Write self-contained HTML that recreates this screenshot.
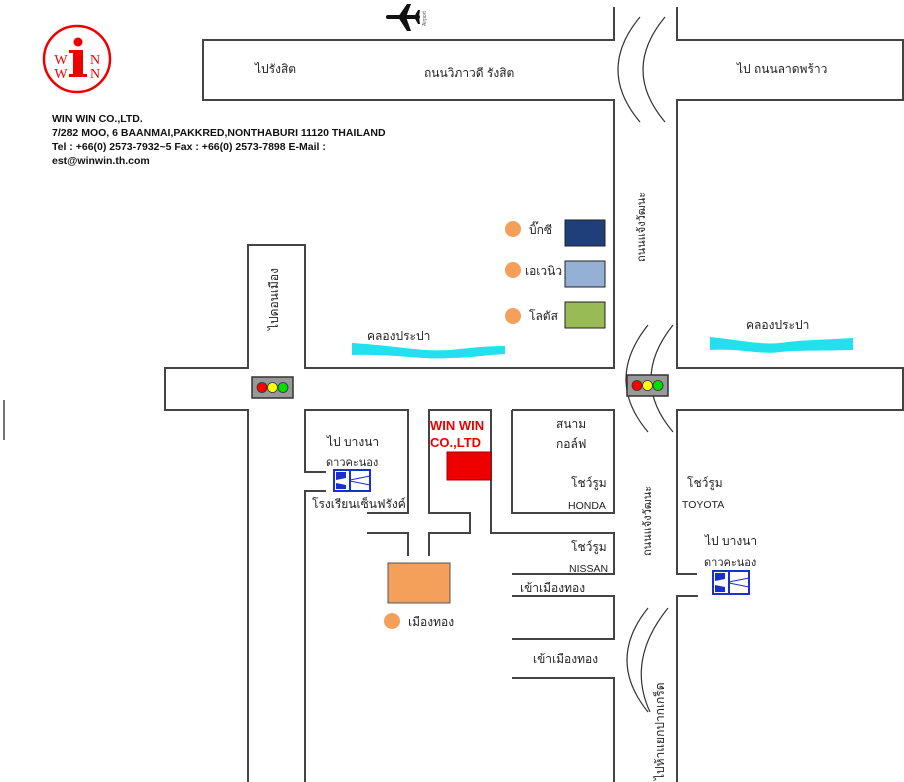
<!DOCTYPE html>
<html><head><meta charset="utf-8"><style>
html,body{margin:0;padding:0;background:#fff;}
svg{display:block;}
text{font-family:"Liberation Sans","Noto Sans CJK SC",sans-serif;}
</style></head><body>
<svg width="904" height="782" viewBox="0 0 904 782" xmlns="http://www.w3.org/2000/svg">
<rect width="904" height="782" fill="#fff"/>
<g stroke="#444" stroke-width="2" fill="none">
<polyline points="614,7 614,40 203,40 203,100 614,100 614,368 305,368 305,245 248,245 248,368 165,368 165,410 248,410 248,782"/>
<polyline points="677,7 677,40 903,40 903,100 677,100 677,368 903,368 903,410 677,410 677,574 697,574"/>
<polyline points="698,596 677,596 677,782"/>
<polyline points="326,472 305,472 305,410 408,410 408,513 367,513"/>
<polyline points="326,491 305,491 305,782"/>
<polyline points="367,533 408,533 408,556"/>
<polyline points="429,556 429,533 470,533 470,513 429,513 429,410 491,410 491,533 614,533 614,574 512,574"/>
<polyline points="512,410 614,410 614,513 512,513 512,410"/>
<polyline points="512,596 614,596 614,639 512,639"/>
<polyline points="512,678 614,678 614,782"/>
<line x1="4" y1="400" x2="4" y2="440" stroke-width="1.5"/>
</g>
<g stroke="#333" stroke-width="1.2" fill="none">
<path d="M640,17 Q596,70 640,122"/>
<path d="M665,17 Q621,70 665,122"/>
<path d="M648,325 Q604,380 648,432"/>
<path d="M673,325 Q629,380 673,432"/>
<path d="M648,608 Q606,660 648,712"/>
<path d="M668,608 Q626,660 650,712"/>
</g>
<path d="M352,343 C400,346 420,352 450,350 C470,348 485,346 505,346 L505,354 C485,355 470,358 450,358 C420,360 400,354 352,355 Z" fill="#22e0ee"/>
<path d="M710,337 C740,340 760,345 780,343 C800,340 820,340 853,338 L853,350 C820,351 800,350 780,352 C760,355 740,348 710,350 Z" fill="#22e0ee"/>
<g>
<rect x="252" y="377" width="41" height="21" fill="#999" stroke="#333" stroke-width="1.5"/>
<circle cx="262" cy="387.5" r="5" fill="red" stroke="#333" stroke-width="0.8"/>
<circle cx="272.5" cy="387.5" r="5" fill="#ff0" stroke="#333" stroke-width="0.8"/>
<circle cx="283" cy="387.5" r="5" fill="#0d0" stroke="#333" stroke-width="0.8"/>
<rect x="627" y="375" width="41" height="21" fill="#999" stroke="#333" stroke-width="1.5"/>
<circle cx="637" cy="385.5" r="5" fill="red" stroke="#333" stroke-width="0.8"/>
<circle cx="647.5" cy="385.5" r="5" fill="#ff0" stroke="#333" stroke-width="0.8"/>
<circle cx="658" cy="385.5" r="5" fill="#0d0" stroke="#333" stroke-width="0.8"/>
</g>
<!-- logo -->
<circle cx="77" cy="59" r="33" fill="none" stroke="#e00" stroke-width="2.5"/>
<circle cx="78" cy="42" r="4.5" fill="#e00"/>
<rect x="73" y="50" width="10" height="26" fill="#e00"/>
<rect x="69" y="50" width="8" height="3" fill="#e00"/>
<rect x="69" y="74" width="18" height="3" fill="#e00"/>
<text x="61" y="64" font-size="14" fill="#e00" text-anchor="middle" style="font-family:'Liberation Serif',serif">W</text>
<text x="61" y="78" font-size="14" fill="#e00" text-anchor="middle" style="font-family:'Liberation Serif',serif">W</text>
<text x="95" y="64" font-size="14" fill="#e00" text-anchor="middle" style="font-family:'Liberation Serif',serif">N</text>
<text x="95" y="78" font-size="14" fill="#e00" text-anchor="middle" style="font-family:'Liberation Serif',serif">N</text>
<g font-size="10.5" font-weight="bold" fill="#111">
<text x="52" y="122">WIN WIN CO.,LTD.</text>
<text x="52" y="136">7/282 MOO, 6 BAANMAI,PAKKRED,NONTHABURI 11120 THAILAND</text>
<text x="52" y="150">Tel : +66(0) 2573-7932~5 Fax : +66(0) 2573-7898 E-Mail :</text>
<text x="52" y="164">est@winwin.th.com</text>
</g>
<g fill="#111">
<rect x="386" y="15" width="34" height="4" rx="2"/>
<polygon points="398,17 407,4 411,4 406,17"/>
<polygon points="398,17 407,31 411,31 406,17"/>
<polygon points="414,17 418,10 420,10 419,17 420,24 418,24"/>
</g>
<text x="426" y="26" font-size="5" fill="#555" transform="rotate(-90 426 26)">Airport</text>
<g font-size="12" fill="#222">
<text x="255" y="73">ไปรังสิต</text>
<text x="424" y="77">ถนนวิภาวดี รังสิต</text>
<text x="737" y="73">ไป ถนนลาดพร้าว</text>
<text x="746" y="329">คลองประปา</text>
<text x="367" y="340">คลองประปา</text>
<text x="529" y="234">บิ๊กซี</text>
<text x="525" y="275">เอเวนิว</text>
<text x="529" y="320">โลตัส</text>
<text x="327" y="446">ไป บางนา</text>
<text x="326" y="466" font-size="11">ดาวคะนอง</text>
<text x="312" y="508">โรงเรียนเซ็นฟรังค์</text>
<text x="556" y="428">สนาม</text>
<text x="556" y="448">กอล์ฟ</text>
<text x="571" y="487">โชว์รูม</text>
<text x="568" y="509" font-size="10.5">HONDA</text>
<text x="571" y="551">โชว์รูม</text>
<text x="569" y="572" font-size="10.5">NISSAN</text>
<text x="520" y="592">เข้าเมืองทอง</text>
<text x="533" y="663">เข้าเมืองทอง</text>
<text x="687" y="487">โชว์รูม</text>
<text x="682" y="508" font-size="10.5">TOYOTA</text>
<text x="705" y="545">ไป บางนา</text>
<text x="704" y="566" font-size="11">ดาวคะนอง</text>
<text x="408" y="626">เมืองทอง</text>
<text x="278" y="330" transform="rotate(-90 278 330)">ไปดอนเมือง</text>
<text x="645" y="262" transform="rotate(-90 645 262)" font-size="11">ถนนแจ้งวัฒนะ</text>
<text x="651" y="556" transform="rotate(-90 651 556)" font-size="11">ถนนแจ้งวัฒนะ</text>
<text x="664" y="780" transform="rotate(-90 664 780)">ไปห้าแยกปากเกร็ด</text>
</g>
<circle cx="513" cy="229" r="8" fill="#f4a05a"/>
<circle cx="513" cy="270" r="8" fill="#f4a05a"/>
<circle cx="513" cy="316" r="8" fill="#f4a05a"/>
<rect x="565" y="220" width="40" height="26" fill="#1f3f7a" stroke="#222"/>
<rect x="565" y="261" width="40" height="26" fill="#94b0d4" stroke="#222"/>
<rect x="565" y="302" width="40" height="26" fill="#99bb55" stroke="#222"/>
<text x="430" y="430" font-size="13" font-weight="bold" fill="#e00">WIN WIN</text>
<text x="430" y="447" font-size="13" font-weight="bold" fill="#e00">CO.,LTD</text>
<rect x="447" y="452" width="44" height="28" fill="#e00" stroke="#900"/>
<rect x="388" y="563" width="62" height="40" fill="#f4a05a" stroke="#555"/>
<circle cx="392" cy="621" r="8" fill="#f4a05a"/>
<g>
<rect x="334" y="470" width="36" height="21" fill="#fff" stroke="#1a2fd0" stroke-width="2"/>
<polygon points="336,472 346,472 346,478 336,480" fill="#1a2fd0"/>
<polygon points="336,483 346,485 346,489 336,489" fill="#1a2fd0"/>
<line x1="350" y1="471" x2="350" y2="490" stroke="#1a2fd0" stroke-width="2"/>
<line x1="350" y1="480" x2="370" y2="476" stroke="#1a2fd0"/>
<line x1="350" y1="481" x2="370" y2="485" stroke="#1a2fd0"/>
<rect x="713" y="571" width="36" height="23" fill="#fff" stroke="#1a2fd0" stroke-width="2"/>
<polygon points="715,573 725,573 725,579 715,581" fill="#1a2fd0"/>
<polygon points="715,585 725,587 725,592 715,592" fill="#1a2fd0"/>
<line x1="729" y1="572" x2="729" y2="593" stroke="#1a2fd0" stroke-width="2"/>
<line x1="729" y1="582" x2="749" y2="578" stroke="#1a2fd0"/>
<line x1="729" y1="583" x2="749" y2="587" stroke="#1a2fd0"/>
</g>
</svg>
</body></html>
